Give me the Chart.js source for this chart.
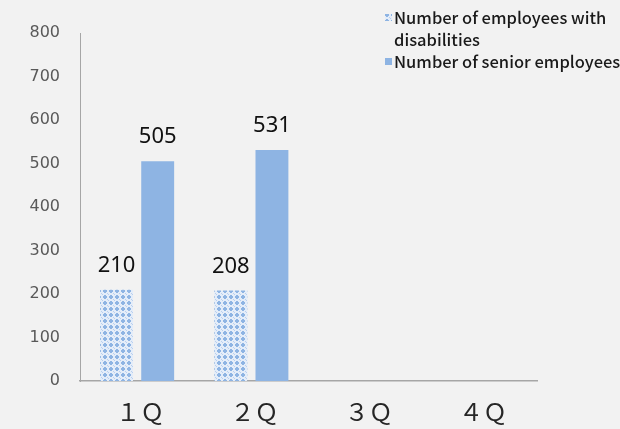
<!DOCTYPE html>
<html>
<head>
<meta charset="utf-8">
<script src="https://cdn.jsdelivr.net/npm/chart.js@4"></script>
<style>
  html, body { margin: 0; padding: 0; background: #f2f2f2; }
  #wrap { width: 620px; height: 429px; position: relative; }
</style>
</head>
<body>
<div id="wrap"><canvas id="c" width="620" height="429"></canvas></div>
<script>
const categories = ['１Ｑ', '２Ｑ', '３Ｑ', '４Ｑ'];
const disabledEmployees = [210, 208, null, null];
const seniorEmployees = [505, 531, null, null];
const seriesNames = ['Number of employees with disabilities', 'Number of senior employees'];
const legendLines = [['Number of employees with', 'disabilities'], ['Number of senior employees']];
const yTicks = [0, 100, 200, 300, 400, 500, 600, 700, 800];

const BLUE = '#8eb4e3';

function makePattern() {
  const t = document.createElement('canvas');
  t.width = 6; t.height = 6;
  const g = t.getContext('2d');
  g.fillStyle = '#e4edf9';
  g.fillRect(0, 0, 6, 6);
  g.fillStyle = BLUE;
  g.fillRect(1, 2, 4, 2);
  g.fillRect(2, 1, 2, 4);
  g.fillStyle = '#b9cfee';
  g.fillRect(0, 0, 1, 1);
  g.fillRect(5, 5, 1, 1);
  const ctx = document.getElementById('c').getContext('2d');
  return ctx.createPattern(t, 'repeat');
}
const pattern = makePattern();

const valueLabels = {
  id: 'valueLabels',
  afterDatasetsDraw(chart) {
    const ctx = chart.ctx;
    ctx.save();
    ctx.font = '22px "Noto Sans"';
    ctx.fillStyle = '#111111';
    ctx.textAlign = 'center';
    ctx.textBaseline = 'alphabetic';
    chart.data.datasets.forEach((ds, i) => {
      chart.getDatasetMeta(i).data.forEach((bar, j) => {
        const v = ds.data[j];
        if (v === null || v === undefined) return;
        ctx.fillText(String(v), bar.x, bar.y - 18);
      });
    });
    ctx.restore();
  }
};

const customLegend = {
  id: 'customLegend',
  afterDraw(chart) {
    const ctx = chart.ctx;
    ctx.save();
    ctx.font = '500 16.5px "Noto Sans CJK JP"';
    ctx.textBaseline = 'middle';
    ctx.textAlign = 'left';
    const x = 394;
    let y = 18;
    chart.data.datasets.forEach((ds, i) => {
      ctx.fillStyle = ds.backgroundColor;
      ctx.fillRect(x - 9, y - 4, 7, 7);
      ctx.fillStyle = '#1a1a1a';
      legendLines[i].forEach(line => {
        ctx.fillText(line, x, y);
        y += 22;
      });
    });
    ctx.restore();
  }
};

new Chart(document.getElementById('c'), {
  type: 'bar',
  data: {
    labels: categories,
    datasets: [
      { label: seriesNames[0], data: disabledEmployees, backgroundColor: pattern,
        categoryPercentage: 0.72, barPercentage: 0.8 },
      { label: seriesNames[1], data: seniorEmployees, backgroundColor: BLUE,
        categoryPercentage: 0.72, barPercentage: 0.8 }
    ]
  },
  options: {
    responsive: false,
    animation: false,
    layout: { padding: { left: 0, right: 83, top: 33, bottom: 0 } },
    plugins: { legend: { display: false }, tooltip: { enabled: false } },
    scales: {
      x: {
        grid: { display: false, drawTicks: false },
        border: { display: true, color: '#a6a6a6', width: 1.5 },
        ticks: { color: '#262626', font: { family: '"Noto Sans CJK JP"', size: 24 }, padding: 16, labelOffset: 3 },
        afterFit(s) { s.height = 48; }
      },
      y: {
        min: 0, max: 800,
        afterBuildTicks(s) { s.ticks = yTicks.map(v => ({ value: v })); },
        grid: { display: false, drawTicks: false },
        border: { display: true, color: '#a6a6a6', width: 1 },
        ticks: { color: '#595959', font: { family: '"DejaVu Sans"', size: 16 }, padding: 20 },
        afterFit(s) { s.width = 80; }
      }
    }
  },
  plugins: [valueLabels, customLegend]
});
</script>
</body>
</html>
